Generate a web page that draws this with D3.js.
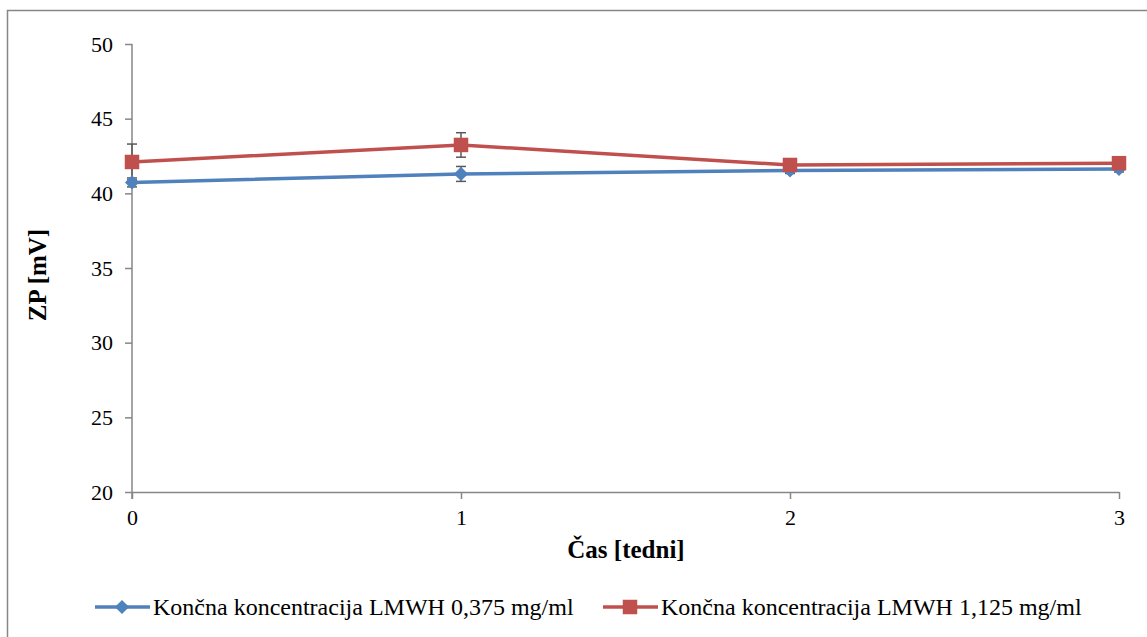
<!DOCTYPE html>
<html>
<head>
<meta charset="utf-8">
<script src="https://cdn.jsdelivr.net/npm/d3@7"></script>
<style>
  body { margin: 0; background: #fff; }
  svg text { font-family: "Liberation Serif", "Times New Roman", serif; }
</style>
</head>
<body>
<svg id="chart" width="1147" height="637"></svg>
<script>
/* ── DATA ── */
const weeks = [0, 1, 2, 3];
const yTicks = [20, 25, 30, 35, 40, 45, 50];
const lowSeries = [40.73, 41.30, 41.53, 41.63];
const lowErr = [0.3, 0.5, 0.2, 0.2];
const highSeries = [42.10, 43.24, 41.90, 42.02];
const highErr = [1.2, 0.82, 0.2, 0.2];
const seriesNames = ['Končna koncentracija LMWH 0,375 mg/ml', 'Končna koncentracija LMWH 1,125 mg/ml'];

const svg = d3.select('#chart');
const AX = '#868686';
const FONT = '"Liberation Serif", "Times New Roman", serif';

// outer frame
svg.append('rect').attr('x', 7.5).attr('y', 10.5).attr('width', 1160).attr('height', 660)
  .attr('fill', 'none').attr('stroke', AX).attr('stroke-width', 1.5);

const x = d3.scaleLinear().domain([0, 3]).range([132, 1119]);
const y = d3.scaleLinear().domain([20, 50]).range([492, 44]);

// y axis
const yAxis = svg.append('g').attr('transform', 'translate(132,0)')
  .call(d3.axisLeft(y).tickValues(yTicks).tickSize(7).tickPadding(12).tickSizeOuter(0));
yAxis.attr('font-family', FONT).attr('font-size', 22);
yAxis.select('.domain').attr('stroke', AX).attr('stroke-width', 1.5).attr('d', 'M0,44V499');
yAxis.selectAll('line').attr('stroke', AX).attr('stroke-width', 1.5);
yAxis.selectAll('text').attr('fill', '#000');

// x axis
const xAxis = svg.append('g').attr('transform', 'translate(0,492)')
  .call(d3.axisBottom(x).tickValues(weeks).tickFormat(d3.format('d')).tickSize(7).tickPadding(10).tickSizeOuter(0));
xAxis.attr('font-family', FONT).attr('font-size', 22);
xAxis.select('.domain').attr('stroke', AX).attr('stroke-width', 1.5);
xAxis.selectAll('line').attr('stroke', AX).attr('stroke-width', 1.5);
xAxis.selectAll('text').attr('fill', '#000');

// axis titles
svg.append('text').attr('x', 626).attr('y', 558).attr('text-anchor', 'middle')
  .attr('font-family', FONT).attr('font-size', 25).attr('font-weight', 'bold').text('Čas [tedni]');
svg.append('text').attr('transform', 'translate(46,275) rotate(-90)').attr('text-anchor', 'middle')
  .attr('font-family', FONT).attr('font-size', 25).attr('font-weight', 'bold').text('ZP [mV]');

const series = [
  { vals: lowSeries, err: lowErr, col: '#4f81bd', shape: d3.symbolSquare, size: 100, rot: 45 },
  { vals: highSeries, err: highErr, col: '#c0504d', shape: d3.symbolSquare, size: 210, rot: 0 }
];

const line = d3.line().x((d, i) => x(weeks[i])).y(d => y(d));

series.forEach(s => {
  svg.append('path').datum(s.vals).attr('d', line)
    .attr('fill', 'none').attr('stroke', s.col).attr('stroke-width', 3.5);
});

// error bars
series.forEach(s => {
  const g = svg.append('g').attr('stroke', '#595959').attr('stroke-width', 1.5);
  s.vals.forEach((v, i) => {
    const cx = x(weeks[i]);
    const y0 = y(v - s.err[i]), y1 = y(v + s.err[i]);
    g.append('line').attr('x1', cx).attr('x2', cx).attr('y1', y0).attr('y2', y1);
    g.append('line').attr('x1', cx - 5).attr('x2', cx + 5).attr('y1', y0).attr('y2', y0);
    g.append('line').attr('x1', cx - 5).attr('x2', cx + 5).attr('y1', y1).attr('y2', y1);
  });
});

// markers
series.forEach(s => {
  svg.append('g').selectAll('path').data(s.vals).join('path')
    .attr('transform', (d, i) => `translate(${x(weeks[i])},${y(d)}) rotate(${s.rot})`)
    .attr('d', d3.symbol().type(s.shape).size(s.size))
    .attr('fill', s.col);
});

// legend
const legX = [95, 603];
series.forEach((s, i) => {
  const g = svg.append('g').attr('transform', `translate(${legX[i]},607)`);
  g.append('line').attr('x1', 0).attr('x2', 55).attr('stroke', s.col).attr('stroke-width', 3.5);
  g.append('path').attr('transform', `translate(27,0) rotate(${s.rot})`)
    .attr('d', d3.symbol().type(s.shape).size(s.size)).attr('fill', s.col);
  g.append('text').attr('x', 58).attr('y', 8).attr('font-family', FONT).attr('font-size', 24).text(seriesNames[i]);
});
</script>
</body>
</html>
